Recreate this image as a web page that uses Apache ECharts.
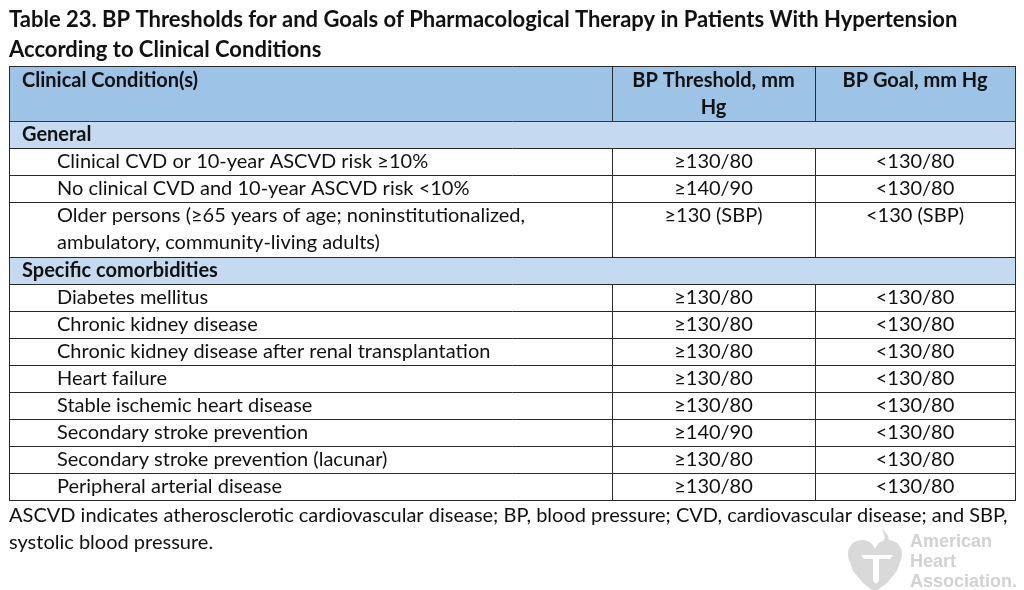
<!DOCTYPE html>
<html>
<head>
<meta charset="utf-8">
<script src="https://cdn.jsdelivr.net/npm/echarts@6/dist/echarts.min.js"></script>
<style>
  html, body { margin: 0; padding: 0; background: #fff; }
  #main { width: 1024px; height: 590px; }
</style>
</head>
<body>
<div id="main"></div>
<script>
// table content
const titleLines = [
  'Table 23. BP Thresholds for and Goals of Pharmacological Therapy in Patients With Hypertension',
  'According to Clinical Conditions'
];
const headerLabels = ['Clinical Condition(s)', 'BP Threshold, mm\nHg', 'BP Goal, mm Hg'];
const sectionNames = ['General', 'Specific comorbidities'];

const generalConditions = [
  'Clinical CVD or 10-year ASCVD risk ≥10%',
  'No clinical CVD and 10-year ASCVD risk <10%',
  'Older persons (≥65 years of age; noninstitutionalized,\nambulatory, community-living adults)'
];
const generalThresholds = ['≥130/80', '≥140/90', '≥130 (SBP)'];
const generalGoals = ['<130/80', '<130/80', '<130 (SBP)'];

const comorbidityConditions = [
  'Diabetes mellitus',
  'Chronic kidney disease',
  'Chronic kidney disease after renal transplantation',
  'Heart failure',
  'Stable ischemic heart disease',
  'Secondary stroke prevention',
  'Secondary stroke prevention (lacunar)',
  'Peripheral arterial disease'
];
const comorbidityThresholds = ['≥130/80', '≥130/80', '≥130/80', '≥130/80', '≥130/80', '≥140/90', '≥130/80', '≥130/80'];
const comorbidityGoals = ['<130/80', '<130/80', '<130/80', '<130/80', '<130/80', '<130/80', '<130/80', '<130/80'];

const footnoteLines = [
  'ASCVD indicates atherosclerotic cardiovascular disease; BP, blood pressure; CVD, cardiovascular disease; and SBP,',
  'systolic blood pressure.'
];
const logoLines = ['American', 'Heart', 'Association.'];

// layout
const FONT = 'Lato';
const colX = [9, 612, 815, 1015];
const tableTop = 66;
const unit = 27.25;
const lineGap = 27;
const borderColor = '#2b2b2b';

// flatten rows
const rows = [{ kind: 'header', units: 2 }];
rows.push({ kind: 'section', name: sectionNames[0], units: 1 });
generalConditions.forEach((c, i) => {
  rows.push({ kind: 'row', cells: [c, generalThresholds[i], generalGoals[i]], units: c.split('\n').length });
});
rows.push({ kind: 'section', name: sectionNames[1], units: 1 });
comorbidityConditions.forEach((c, i) => {
  rows.push({ kind: 'row', cells: [c, comorbidityThresholds[i], comorbidityGoals[i]], units: 1 });
});

const elements = [];

function txt(x, y, text, opts) {
  elements.push({
    type: 'text',
    x: x, y: y,
    silent: true,
    style: Object.assign({
      text: text,
      fontFamily: FONT,
      fontSize: 20,
      fill: '#111',
      lineHeight: lineGap,
      verticalAlign: 'top'
    }, opts || {})
  });
}
function hline(x1, x2, y, color) {
  elements.push({ type: 'line', silent: true, shape: { x1: x1, y1: y + 0.5, x2: x2, y2: y + 0.5 },
    style: { stroke: color || borderColor, lineWidth: 1 } });
}
function vline(x, y1, y2) {
  elements.push({ type: 'line', silent: true, shape: { x1: x + 0.5, y1: y1, x2: x + 0.5, y2: y2 },
    style: { stroke: borderColor, lineWidth: 1 } });
}

// title
txt(9, 5, titleLines.join('\n'), { fontWeight: 'bold', fontSize: 22, lineHeight: 30 });

let y = tableTop;
rows.forEach((r, idx) => {
  const h = Math.round(r.units * unit);
  if (r.kind === 'header') {
    elements.push({ type: 'rect', silent: true, shape: { x: colX[0], y: y, width: colX[3] - colX[0], height: h },
      style: { fill: '#9dc3e6' } });
    txt(22, y + 1, headerLabels[0], { fontWeight: 'bold' });
    txt((colX[1] + colX[2]) / 2, y + 1, headerLabels[1], { fontWeight: 'bold', align: 'center' });
    txt((colX[2] + colX[3]) / 2, y + 1, headerLabels[2], { fontWeight: 'bold', align: 'center' });
    vline(colX[1], y, y + h);
    vline(colX[2], y, y + h);
  } else if (r.kind === 'section') {
    elements.push({ type: 'rect', silent: true, shape: { x: colX[0], y: y, width: colX[3] - colX[0], height: h },
      style: { fill: '#c5daf0' } });
    txt(22, y, r.name, { fontWeight: 'bold' });
  } else {
    txt(57, y, r.cells[0]);
    txt((colX[1] + colX[2]) / 2, y, r.cells[1], { align: 'center' });
    txt((colX[2] + colX[3]) / 2, y, r.cells[2], { align: 'center' });
    vline(colX[1], y, y + h);
    vline(colX[2], y, y + h);
  }
  hline(colX[0], colX[3] + 1, y, idx === 1 ? '#2c3a4e' : borderColor);
  y += h;
});
hline(colX[0], colX[3] + 1, y);
vline(colX[0], tableTop, y);
vline(colX[3], tableTop, y);

// footnote
txt(9, y + 2, footnoteLines.join('\n'));

// faded AHA logo: heart with torch cut-out
const logoGray = '#d9d9d9';
elements.push({ type: 'circle', silent: true, shape: { cx: 862, cy: 554, r: 14 }, style: { fill: logoGray } });
elements.push({ type: 'circle', silent: true, shape: { cx: 888, cy: 554, r: 14 }, style: { fill: logoGray } });
elements.push({ type: 'polygon', silent: true,
  shape: { points: [[848.5, 558], [901.5, 558], [897, 571], [887, 583], [875, 592], [863, 583], [853, 571]] },
  style: { fill: logoGray } });
elements.push({ type: 'polygon', silent: true,
  shape: { points: [[884, 553], [890, 545], [888, 536], [882, 528], [885, 538], [880, 546]] },
  style: { fill: logoGray } });
elements.push({ type: 'polygon', silent: true,
  shape: { points: [[861, 555], [893, 555], [890, 559], [879, 559], [879, 581], [876, 584], [873, 581], [873, 559], [864, 559]] },
  style: { fill: '#ffffff' } });
txt(910, 532, logoLines.join('\n'), { fontFamily: 'Liberation Sans', fontWeight: 'bold', fontSize: 18, lineHeight: 20, fill: '#d2d2d2' });

const chart = echarts.init(document.getElementById('main'));
chart.setOption({
  backgroundColor: '#fff',
  animation: false,
  graphic: { elements: elements }
});
</script>
</body>
</html>
